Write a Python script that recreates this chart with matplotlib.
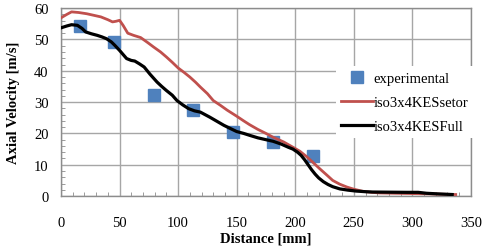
import matplotlib
matplotlib.use("Agg")
import matplotlib.pyplot as plt
from matplotlib.ticker import MultipleLocator

exp_x = [16, 45, 79, 113, 147, 181, 215]
exp_y = [54.2, 49.3, 32.2, 27.5, 20.4, 17.4, 12.8]

setor_x = [0, 5, 9, 15, 22, 28, 34, 40, 44, 47, 50, 53, 57, 62, 68, 74, 79, 85, 90, 95, 100, 105, 110, 115, 119, 125, 130, 136, 142, 150, 156, 161, 168, 175, 181, 190, 198, 204, 210, 215, 221, 227, 232, 238, 244, 250, 258, 265, 272, 285, 300, 315, 325, 337]
setor_y = [56.9, 58.0, 58.8, 58.6, 58.2, 57.7, 57.2, 56.3, 55.6, 55.8, 56.1, 54.5, 52.0, 51.3, 50.6, 49.0, 47.6, 46.0, 44.4, 42.7, 40.9, 39.5, 38.0, 36.3, 34.8, 32.7, 30.5, 29.0, 27.4, 25.5, 24.0, 22.8, 21.3, 20.0, 18.8, 17.3, 15.6, 14.3, 12.5, 10.8, 8.7, 6.7, 5.0, 3.8, 2.9, 2.2, 1.5, 1.2, 1.0, 0.9, 0.8, 0.7, 0.6, 0.5]

full_x = [0, 5, 9, 14, 18, 21, 26, 31, 35, 39, 43, 46, 50, 53, 56, 60, 63, 67, 71, 76, 82, 86, 90, 95, 99, 104, 109, 114, 119, 123, 127, 133, 139, 145, 150, 156, 161, 168, 175, 181, 188, 194, 198, 202, 205, 208, 211, 214, 217, 220, 224, 228, 232, 238, 245, 252, 260, 266, 280, 295, 305, 312, 322, 334]
full_y = [53.7, 54.3, 54.7, 54.5, 53.5, 52.4, 51.8, 51.3, 50.8, 50.2, 49.2, 48.1, 46.5, 45.2, 43.9, 43.3, 43.1, 42.2, 41.2, 38.9, 36.4, 35.0, 33.7, 32.2, 30.5, 29.1, 27.9, 27.2, 26.8, 26.0, 25.2, 23.9, 22.6, 21.5, 20.6, 20.0, 19.4, 18.6, 18.0, 17.5, 16.6, 15.6, 15.0, 14.0, 13.0, 11.6, 10.0, 8.4, 7.0, 5.8, 4.6, 3.7, 3.0, 2.3, 1.9, 1.6, 1.4, 1.3, 1.25, 1.2, 1.2, 0.9, 0.7, 0.5]

x_ticks = [0, 50, 100, 150, 200, 250, 300, 350]
y_ticks = [0, 10, 20, 30, 40, 50, 60]

plt.rcParams['font.family'] = ['Liberation Serif', 'DejaVu Serif']

fig = plt.figure(figsize=(4.88, 2.53), dpi=100)
ax = fig.add_axes([0.125, 0.221, 0.84, 0.743])

ax.plot(exp_x, exp_y, linestyle='none', marker='s', markersize=8,
        color='#4F81BD', label='experimental', zorder=3)
ax.plot(setor_x, setor_y, color='#C0504D', lw=2.0, label='iso3x4KESsetor', zorder=4,
        solid_joinstyle='round')
ax.plot(full_x, full_y, color='black', lw=2.3, label='iso3x4KESFull', zorder=5,
        solid_joinstyle='round')

ax.set_xlim(0, 350)
ax.set_ylim(0, 60)
ax.set_xticks(x_ticks)
ax.set_yticks(y_ticks)
ax.xaxis.set_minor_locator(MultipleLocator(10))
ax.yaxis.set_minor_locator(MultipleLocator(2))
ax.grid(True, which='major', color='#A6A6A6', lw=1.0)
ax.set_axisbelow(True)
for s in ax.spines.values():
    s.set_color('#8C8C8C')
    s.set_linewidth(1.0)
ax.tick_params(which='major', length=0, labelsize=10.5)
ax.tick_params(axis='x', which='major', pad=14)
ax.tick_params(axis='y', which='major', pad=9)
ax.tick_params(which='minor', direction='in', length=3, color='#8C8C8C')
ax.tick_params(axis='x', which='minor', top=False)
ax.tick_params(axis='y', which='minor', right=False)

ax.set_xlabel('Distance [mm]', fontweight='bold', fontsize=10.5, labelpad=2)
ax.set_ylabel('Axial Velocity [m/s]', fontweight='bold', fontsize=10.5, labelpad=10)

leg = ax.legend(loc='upper left', bbox_to_anchor=(0.67, 0.69), frameon=True,
                fontsize=10.5, handlelength=2.2, handletextpad=0.05,
                labelspacing=0.75, borderpad=0.35, borderaxespad=0)
leg.get_frame().set_edgecolor('none')
leg.get_frame().set_facecolor('white')
leg.get_frame().set_alpha(1)
leg.get_frame().set_boxstyle('square', pad=0)

fig.savefig('out.png', dpi=100)
